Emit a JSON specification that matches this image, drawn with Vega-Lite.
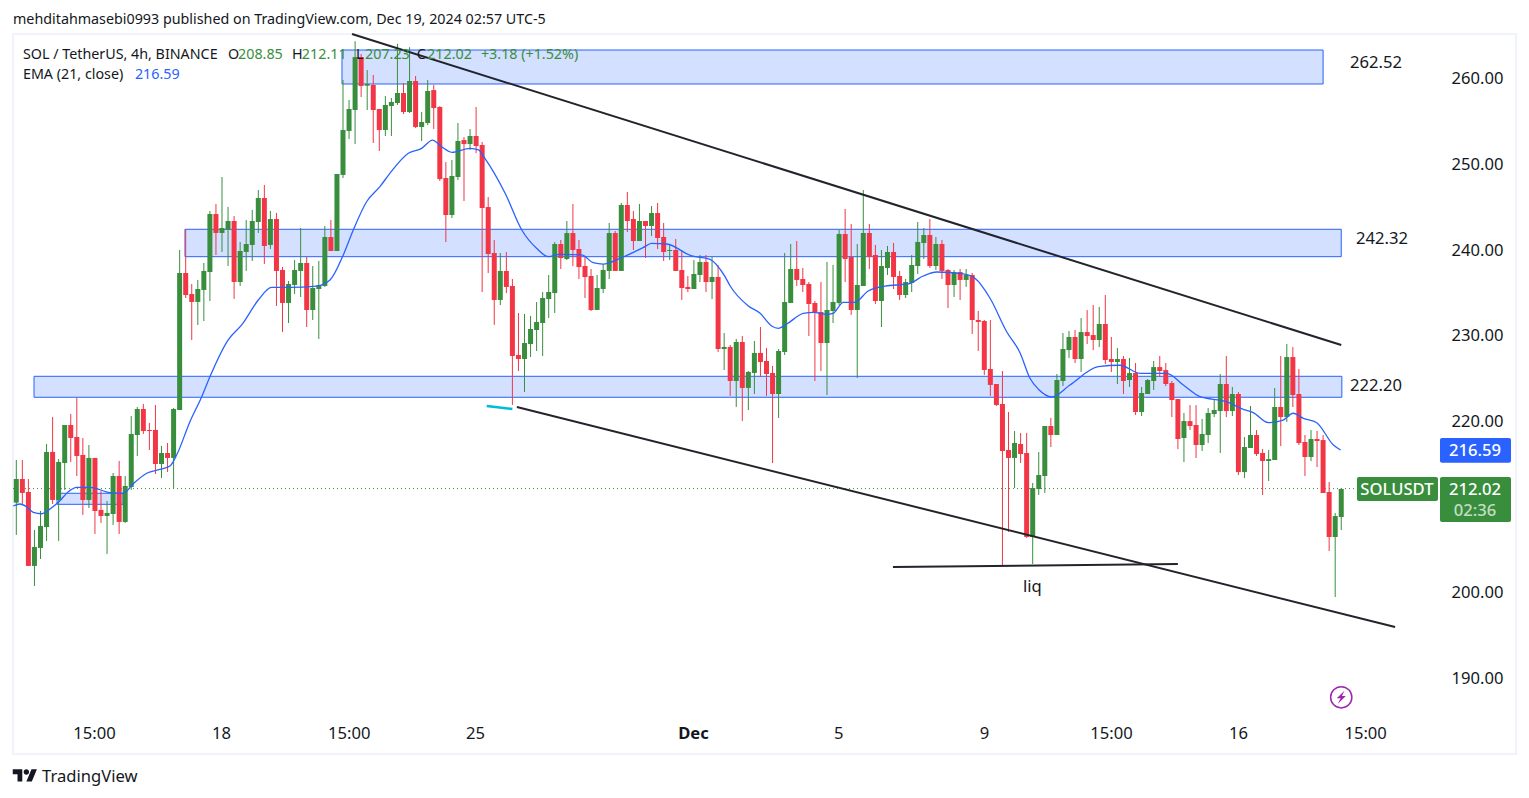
{"$schema":"https://vega.github.io/schema/vega-lite/v6.json","width":1529,"height":798,"autosize":{"type":"none"},"padding":0,"background":"white","config":{"view":{"stroke":null},"font":"Noto Sans"},
"datasets":{
"candles":[
{"i":0,"o":210.38,"h":215.36,"l":206.6,"c":213.14},{"i":1,"o":213.14,"h":215.36,"l":210.1,"c":211.51},{"i":2,"o":211.62,"h":213.14,"l":202.98,"c":202.98},{"i":3,"o":202.98,"h":207.18,"l":200.64,"c":205.2},{"i":4,"o":205.08,"h":209.4,"l":203.79,"c":207.65},{"i":5,"o":207.53,"h":217.23,"l":205.9,"c":216.3},{"i":6,"o":216.3,"h":220.39,"l":210.22,"c":210.69},{"i":7,"o":210.69,"h":215.48,"l":205.9,"c":215.13},{"i":8,"o":215.01,"h":219.45,"l":211.86,"c":219.45},{"i":9,"o":219.45,"h":220.74,"l":215.13,"c":217.93},
{"i":10,"o":218.05,"h":222.61,"l":213.49,"c":215.83},{"i":11,"o":215.95,"h":217.93,"l":208.94,"c":210.69},{"i":12,"o":210.69,"h":217.11,"l":209.75,"c":215.6},{"i":13,"o":215.6,"h":215.6,"l":206.72,"c":209.4},{"i":14,"o":209.52,"h":211.74,"l":208,"c":208.82},{"i":15,"o":208.82,"h":210.57,"l":204.38,"c":209.17},{"i":16,"o":209.05,"h":213.84,"l":207.77,"c":213.49},{"i":17,"o":213.49,"h":215.25,"l":206.72,"c":208.12},{"i":18,"o":208.12,"h":213.49,"l":208,"c":212.32},{"i":19,"o":212.21,"h":220.5,"l":211.86,"c":218.4},
{"i":20,"o":218.28,"h":221.55,"l":215.83,"c":221.32},{"i":21,"o":221.32,"h":221.91,"l":218.4,"c":218.75},{"i":22,"o":218.87,"h":219.69,"l":216.53,"c":218.75},{"i":23,"o":218.87,"h":221.79,"l":213.73,"c":214.89},{"i":24,"o":214.89,"h":217,"l":213.26,"c":216.18},{"i":25,"o":216.18,"h":217.35,"l":213.96,"c":215.6},{"i":26,"o":215.6,"h":221.44,"l":212.09,"c":221.32},{"i":27,"o":221.21,"h":239.9,"l":221.21,"c":237.21},{"i":28,"o":237.21,"h":242.32,"l":234.29,"c":234.64},{"i":29,"o":234.76,"h":235.93,"l":229.39,"c":233.83},
{"i":30,"o":233.83,"h":236.4,"l":231.14,"c":235.34},{"i":31,"o":235.23,"h":238.38,"l":231.6,"c":237.45},{"i":32,"o":237.33,"h":244.46,"l":233.94,"c":244.11},{"i":33,"o":244.11,"h":245.28,"l":239.32,"c":241.89},{"i":34,"o":241.89,"h":248.43,"l":239.67,"c":242.47},{"i":35,"o":242.28,"h":244.93,"l":238.03,"c":243.29},{"i":36,"o":243.29,"h":243.87,"l":234.18,"c":236.16},{"i":37,"o":236.16,"h":240.84,"l":235.7,"c":239.78},{"i":38,"o":239.67,"h":243.41,"l":237.45,"c":240.6},{"i":39,"o":240.49,"h":244.58,"l":238.62,"c":243.29},
{"i":40,"o":243.17,"h":246.91,"l":241.89,"c":245.98},{"i":41,"o":245.98,"h":247.5,"l":238.27,"c":240.37},{"i":42,"o":240.49,"h":244.46,"l":240.02,"c":243.52},{"i":43,"o":243.52,"h":244.23,"l":233.36,"c":237.45},{"i":44,"o":237.57,"h":237.92,"l":230.32,"c":233.71},{"i":45,"o":233.71,"h":236.28,"l":231.37,"c":235.93},{"i":46,"o":235.81,"h":238.73,"l":234.76,"c":237.57},{"i":47,"o":237.45,"h":242.47,"l":234.41,"c":238.38},{"i":48,"o":238.38,"h":239.08,"l":230.9,"c":232.89},{"i":49,"o":232.89,"h":238.03,"l":231.72,"c":235.46},
{"i":50,"o":235.34,"h":238.62,"l":229.5,"c":235.81},{"i":51,"o":235.7,"h":242.71,"l":235.58,"c":241.42},{"i":52,"o":241.42,"h":243.41,"l":239.78,"c":239.78},{"i":53,"o":239.78,"h":248.78,"l":239.78,"c":248.78},{"i":54,"o":248.67,"h":259.77,"l":248.31,"c":253.92},{"i":55,"o":253.81,"h":257.43,"l":252.87,"c":256.38},{"i":56,"o":256.26,"h":264.3,"l":252.29,"c":262.45},{"i":57,"o":262.45,"h":262.8,"l":257.78,"c":259.07},{"i":58,"o":259.1,"h":260.93,"l":256.26,"c":259.3},{"i":59,"o":259.18,"h":260.35,"l":252.4,"c":256.26},
{"i":60,"o":256.38,"h":256.38,"l":251.47,"c":253.92},{"i":61,"o":253.92,"h":257.9,"l":253.22,"c":256.85},{"i":62,"o":256.73,"h":257.66,"l":253.22,"c":257.2},{"i":63,"o":257.08,"h":264,"l":256.85,"c":258.25},{"i":64,"o":258.24,"h":259.41,"l":255.79,"c":256.02},{"i":65,"o":256.02,"h":263.6,"l":255.91,"c":259.65},{"i":66,"o":259.65,"h":260.23,"l":254.15,"c":254.27},{"i":67,"o":254.27,"h":256.02,"l":252.64,"c":254.86},{"i":68,"o":254.74,"h":259.76,"l":254.5,"c":258.48},{"i":69,"o":258.59,"h":259.18,"l":254.04,"c":256.49},
{"i":70,"o":256.61,"h":256.72,"l":247.96,"c":248.19},{"i":71,"o":248.31,"h":250.18,"l":240.83,"c":243.99},{"i":72,"o":243.99,"h":250.42,"l":243.64,"c":248.55},{"i":73,"o":248.43,"h":254.74,"l":248.08,"c":252.64},{"i":74,"o":252.75,"h":253.1,"l":245.62,"c":252.28},{"i":75,"o":252.28,"h":254.04,"l":251.58,"c":253.22},{"i":76,"o":253.22,"h":256.61,"l":251.23,"c":252.05},{"i":77,"o":252.17,"h":252.52,"l":234.99,"c":244.81},{"i":78,"o":244.92,"h":246.09,"l":237.21,"c":239.43},{"i":79,"o":239.55,"h":241.07,"l":231.14,"c":234.06},
{"i":80,"o":234.06,"h":239.55,"l":233.47,"c":237.45},{"i":81,"o":237.45,"h":239.66,"l":234.87,"c":235.58},{"i":82,"o":235.69,"h":236.51,"l":221.79,"c":227.51},{"i":83,"o":227.63,"h":232.54,"l":225.76,"c":227.16},{"i":84,"o":227.16,"h":232.42,"l":223.31,"c":229.03},{"i":85,"o":228.91,"h":232.19,"l":227.4,"c":230.67},{"i":86,"o":230.55,"h":233.82,"l":228.1,"c":231.49},{"i":87,"o":231.37,"h":234.99,"l":227.51,"c":234.29},{"i":88,"o":234.17,"h":236.98,"l":231.95,"c":234.99},{"i":89,"o":234.87,"h":240.83,"l":232.54,"c":240.6},
{"i":90,"o":240.6,"h":241.07,"l":237.68,"c":238.96},{"i":91,"o":238.85,"h":243.29,"l":238.73,"c":241.88},{"i":92,"o":241.88,"h":245.27,"l":238.03,"c":239.9},{"i":93,"o":240.02,"h":241.07,"l":236.51,"c":237.91},{"i":94,"o":238.03,"h":239.08,"l":234.29,"c":236.74},{"i":95,"o":236.86,"h":237.68,"l":232.77,"c":232.89},{"i":96,"o":232.89,"h":236.98,"l":232.89,"c":235.46},{"i":97,"o":235.34,"h":238.26,"l":234.87,"c":237.56},{"i":98,"o":237.45,"h":243.05,"l":236.51,"c":241.88},{"i":99,"o":241.88,"h":242.12,"l":237.45,"c":237.45},
{"i":100,"o":237.45,"h":245.39,"l":237.45,"c":245.16},{"i":101,"o":245.16,"h":246.68,"l":242,"c":243.29},{"i":102,"o":243.52,"h":244.46,"l":239.9,"c":240.95},{"i":103,"o":240.95,"h":245.28,"l":240.95,"c":243.29},{"i":104,"o":243.29,"h":243.29,"l":238.97,"c":242.71},{"i":105,"o":242.71,"h":245.04,"l":241.54,"c":244.22},{"i":106,"o":244.22,"h":245.39,"l":240.02,"c":241.3},{"i":107,"o":241.42,"h":243.06,"l":238.62,"c":239.67},{"i":108,"o":239.78,"h":240.49,"l":238.73,"c":239.9},{"i":109,"o":239.9,"h":241.19,"l":237.45,"c":237.45},
{"i":110,"o":237.56,"h":239.9,"l":234.06,"c":235.46},{"i":111,"o":235.58,"h":236.86,"l":234.99,"c":235.34},{"i":112,"o":235.34,"h":238.73,"l":235.34,"c":237.1},{"i":113,"o":236.98,"h":239.32,"l":236.16,"c":238.5},{"i":114,"o":238.5,"h":239.32,"l":234.99,"c":236.16},{"i":115,"o":236.16,"h":239.08,"l":234.17,"c":236.75},{"i":116,"o":236.75,"h":238.15,"l":227.98,"c":228.33},{"i":117,"o":228.33,"h":230.2,"l":225.88,"c":228.57},{"i":118,"o":228.57,"h":228.8,"l":222.84,"c":224.59},{"i":119,"o":224.59,"h":229.5,"l":221.56,"c":229.15},
{"i":120,"o":229.15,"h":229.85,"l":219.92,"c":223.78},{"i":121,"o":223.78,"h":225.76,"l":221.2,"c":225.65},{"i":122,"o":225.53,"h":229.27,"l":223.07,"c":227.87},{"i":123,"o":227.87,"h":230.9,"l":225.06,"c":226.81},{"i":124,"o":226.93,"h":228.45,"l":222.84,"c":225.41},{"i":125,"o":225.53,"h":226.35,"l":215.01,"c":223.07},{"i":126,"o":223.07,"h":228.33,"l":220.27,"c":228.1},{"i":127,"o":227.98,"h":239.55,"l":227.63,"c":233.82},{"i":128,"o":233.71,"h":240.6,"l":233.71,"c":237.68},{"i":129,"o":237.68,"h":240.95,"l":235.69,"c":236.4},
{"i":130,"o":236.51,"h":237.8,"l":234.99,"c":235.81},{"i":131,"o":235.93,"h":236.16,"l":229.85,"c":233.59},{"i":132,"o":233.71,"h":233.94,"l":224.59,"c":232.54},{"i":133,"o":232.66,"h":236.16,"l":225.76,"c":229.03},{"i":134,"o":229.03,"h":238.5,"l":222.96,"c":232.89},{"i":135,"o":232.77,"h":238.15,"l":231.37,"c":233.82},{"i":136,"o":233.71,"h":242.24,"l":233.47,"c":241.77},{"i":137,"o":241.77,"h":244.69,"l":236.16,"c":238.85},{"i":138,"o":239.08,"h":242.94,"l":232.31,"c":232.89},{"i":139,"o":232.89,"h":240.6,"l":224.94,"c":235.81},
{"i":140,"o":235.69,"h":246.91,"l":235.69,"c":241.89},{"i":141,"o":241.89,"h":242.94,"l":237.68,"c":239.08},{"i":142,"o":239.32,"h":240.49,"l":233.59,"c":233.94},{"i":143,"o":233.94,"h":239.9,"l":230.9,"c":238.03},{"i":144,"o":237.8,"h":240.37,"l":236.98,"c":239.67},{"i":145,"o":239.67,"h":240.72,"l":235.34,"c":236.75},{"i":146,"o":236.86,"h":237.45,"l":234.06,"c":234.64},{"i":147,"o":234.64,"h":236.51,"l":234.29,"c":236.16},{"i":148,"o":236.05,"h":239.32,"l":234.99,"c":238.15},{"i":149,"o":238.03,"h":243.17,"l":237.1,"c":240.84},
{"i":150,"o":240.72,"h":242.47,"l":238.85,"c":241.65},{"i":151,"o":241.65,"h":243.52,"l":237.8,"c":238.03},{"i":152,"o":238.03,"h":241.42,"l":237.56,"c":240.6},{"i":153,"o":240.6,"h":241.07,"l":236.51,"c":237.45},{"i":154,"o":237.56,"h":237.68,"l":233.12,"c":235.81},{"i":155,"o":235.81,"h":237.56,"l":234.41,"c":237.33},{"i":156,"o":237.33,"h":237.68,"l":234.06,"c":236.4},{"i":157,"o":236.4,"h":237.68,"l":235.58,"c":236.98},{"i":158,"o":236.98,"h":237.21,"l":230.09,"c":231.72},{"i":159,"o":231.72,"h":232.77,"l":228.1,"c":231.49},
{"i":160,"o":231.6,"h":231.72,"l":225.3,"c":225.88},{"i":161,"o":226,"h":231.72,"l":222.84,"c":224.13},{"i":162,"o":224.24,"h":224.24,"l":221.67,"c":221.79},{"i":163,"o":221.91,"h":225.76,"l":202.98,"c":216.41},{"i":164,"o":216.53,"h":220.97,"l":206.95,"c":215.6},{"i":165,"o":215.6,"h":218.75,"l":212.09,"c":217.35},{"i":166,"o":217.23,"h":218.52,"l":215.01,"c":216.06},{"i":167,"o":216.18,"h":218.52,"l":206.25,"c":206.37},{"i":168,"o":206.37,"h":212.67,"l":203.21,"c":212.09},{"i":169,"o":211.97,"h":216.3,"l":211.27,"c":213.61},
{"i":170,"o":213.49,"h":219.33,"l":211.51,"c":219.33},{"i":171,"o":219.33,"h":220.27,"l":216.88,"c":218.28},{"i":172,"o":218.28,"h":225.41,"l":218.28,"c":224.71},{"i":173,"o":224.59,"h":230.2,"l":224,"c":228.33},{"i":174,"o":228.21,"h":230.43,"l":227.28,"c":229.73},{"i":175,"o":229.73,"h":230.55,"l":226.69,"c":227.16},{"i":176,"o":227.16,"h":231.95,"l":225.64,"c":230.31},{"i":177,"o":230.31,"h":232.88,"l":228.91,"c":229.85},{"i":178,"o":229.96,"h":233.47,"l":228.21,"c":229.38},{"i":179,"o":229.38,"h":233.24,"l":228.56,"c":231.25},
{"i":180,"o":231.25,"h":234.64,"l":226.57,"c":227.04},{"i":181,"o":227.16,"h":229.73,"l":225.64,"c":226.81},{"i":182,"o":226.81,"h":228.44,"l":224.24,"c":227.16},{"i":183,"o":227.16,"h":227.51,"l":223.07,"c":224.59},{"i":184,"o":224.71,"h":227.28,"l":223.89,"c":225.52},{"i":185,"o":225.52,"h":226.69,"l":220.62,"c":220.97},{"i":186,"o":220.97,"h":223.89,"l":220.5,"c":223.19},{"i":187,"o":223.07,"h":224.82,"l":223.07,"c":224.71},{"i":188,"o":224.59,"h":226.92,"l":223.54,"c":226.22},{"i":189,"o":226.22,"h":227.51,"l":225.06,"c":225.76},
{"i":190,"o":225.87,"h":226.69,"l":224,"c":224.24},{"i":191,"o":224.35,"h":224.59,"l":220.38,"c":222.37},{"i":192,"o":222.48,"h":222.48,"l":216.64,"c":217.81},{"i":193,"o":217.93,"h":220.85,"l":215.12,"c":219.91},{"i":194,"o":219.91,"h":221.78,"l":218.86,"c":219.33},{"i":195,"o":219.45,"h":221.78,"l":215.59,"c":217.11},{"i":196,"o":217.11,"h":220.15,"l":216.41,"c":218.4},{"i":197,"o":218.28,"h":221.43,"l":217.34,"c":220.85},{"i":198,"o":220.73,"h":222.48,"l":220.38,"c":221.2},{"i":199,"o":221.08,"h":225.41,"l":216.18,"c":224.24},
{"i":200,"o":224.24,"h":227.51,"l":220.38,"c":221.08},{"i":201,"o":221.08,"h":223.89,"l":220.5,"c":223.07},{"i":202,"o":223.07,"h":223.3,"l":213.6,"c":213.95},{"i":203,"o":213.95,"h":218.04,"l":213.25,"c":216.88},{"i":204,"o":216.76,"h":221.67,"l":216.76,"c":218.28},{"i":205,"o":218.28,"h":218.86,"l":215.83,"c":216.06},{"i":206,"o":216.18,"h":216.64,"l":211.27,"c":215.24},{"i":207,"o":215.24,"h":216.53,"l":212.9,"c":215.47},{"i":208,"o":215.36,"h":223.77,"l":215.36,"c":221.55},{"i":209,"o":221.55,"h":227.51,"l":216.99,"c":220.38},
{"i":210,"o":220.38,"h":228.91,"l":219.8,"c":227.39},{"i":211,"o":227.39,"h":228.56,"l":221.55,"c":222.95},{"i":212,"o":223.07,"h":225.99,"l":217.11,"c":217.34},{"i":213,"o":217.46,"h":218.28,"l":213.49,"c":215.71},{"i":214,"o":215.71,"h":218.86,"l":215.24,"c":217.81},{"i":215,"o":217.81,"h":218.75,"l":214.54,"c":217.58},{"i":216,"o":217.69,"h":218.28,"l":211.5,"c":211.5},{"i":217,"o":211.62,"h":212.79,"l":204.72,"c":206.36},{"i":218,"o":206.36,"h":209.16,"l":199.35,"c":208.81},{"i":219,"o":208.7,"h":212.08,"l":207.18,"c":211.97}],
"ema":[{"i":-0.5,"v":209.98},{"i":0.6,"v":210.22},{"i":1.7,"v":209.9},{"i":2.8,"v":209.25},{"i":4.2,"v":209.08},{"i":5.85,"v":209.79},{"i":7.2,"v":210.6},{"i":8.6,"v":211.66},{"i":10,"v":212.17},{"i":12.2,"v":212.17},{"i":15.5,"v":211.54},{"i":17.7,"v":211.47},{"i":19.3,"v":212.56},{"i":21.55,"v":213.81},{"i":23.75,"v":214.27},{"i":25.4,"v":214.66},{"i":26.5,"v":215.94},{"i":28.7,"v":219.84},{"i":30.65,"v":222.76},{"i":32,"v":225.09},{"i":35,"v":229.38},{"i":37.25,"v":231.14},{"i":40,"v":234.06},{"i":42.2,"v":235.54},{"i":45.25,"v":235.54},{"i":49.65,"v":235.69},{"i":51.85,"v":236.39},{"i":54.05,"v":239.32},{"i":55.7,"v":242.24},{"i":57.9,"v":245.54},{"i":60.1,"v":247.3},{"i":61.75,"v":248.86},{"i":64.8,"v":251.2},{"i":67,"v":251.78},{"i":68.8,"v":252.75},{"i":70.3,"v":251.97},{"i":72,"v":251.32},{"i":75,"v":251.78},{"i":76.4,"v":251.59},{"i":77.45,"v":250.62},{"i":80.8,"v":246.53},{"i":83.55,"v":242.24},{"i":86,"v":240.1},{"i":87.95,"v":239.12},{"i":89.85,"v":239.4},{"i":93.45,"v":239.32},{"i":95.35,"v":238.42},{"i":97,"v":238.26},{"i":99.8,"v":238.93},{"i":103.6,"v":240.17},{"i":105,"v":240.68},{"i":107.5,"v":240.6},{"i":111.65,"v":239.2},{"i":114.65,"v":238.81},{"i":117.15,"v":236.78},{"i":118,"v":235.69},{"i":121,"v":233.36},{"i":122.95,"v":232.5},{"i":124.85,"v":231.02},{"i":125.95,"v":230.75},{"i":127.35,"v":231.25},{"i":130.1,"v":232.5},{"i":131.75,"v":232.62},{"i":133.95,"v":232.39},{"i":135,"v":232.5},{"i":136.7,"v":233.79},{"i":138.6,"v":233.79},{"i":140.8,"v":235.11},{"i":143.6,"v":235.69},{"i":147.45,"v":235.93},{"i":149.9,"v":236.86},{"i":152.15,"v":237.33},{"i":156.55,"v":237.1},{"i":158.45,"v":236.59},{"i":160.95,"v":234.26},{"i":163.7,"v":230.35},{"i":165.9,"v":227.9},{"i":167.55,"v":224.91},{"i":168.95,"v":223.62},{"i":171.15,"v":222.72},{"i":174.15,"v":224.12},{"i":178.85,"v":226.26},{"i":182.4,"v":226.43},{"i":185.75,"v":225.49},{"i":190.15,"v":225.49},{"i":192.9,"v":224.12},{"i":195.65,"v":222.76},{"i":200.05,"v":222.17},{"i":202.8,"v":221.28},{"i":204.45,"v":220.89},{"i":206.95,"v":219.72},{"i":209.4,"v":220.03},{"i":211.05,"v":220.82},{"i":212.75,"v":220.23},{"i":214.95,"v":219.72},{"i":217.7,"v":217.11},{"i":218.9,"v":216.53}],
"bands":[{"a":53.83,"b":216,"lo":259.3,"hi":263.27},{"a":27.88,"b":219,"lo":239.12,"hi":242.32},{"a":2.93,"b":219.1,"lo":222.69,"hi":225.14},{"a":6.73,"b":17.64,"lo":210.18,"hi":211.47}],
"frame":[{"a":-0.55,"b":247.9,"lo":181,"hi":265.14}],
"trend":[{"a":55.49,"b":219,"p0":265.14,"p1":228.8},{"a":82.74,"b":227.9,"p0":221.55,"p1":195.84},{"a":144.9,"b":192,"p0":202.86,"p1":203.21}],
"cyan":[{"a":77.75,"b":82,"p0":221.67,"p1":221.32}],
"last":[{"a":-0.55,"b":221.3,"p":212.02}],
"text":[{"i":-0.55,"p":266.89,"t":"mehditahmasebi0993 published on TradingView.com, Dec 19, 2024 02:57 UTC-5","k":"ink"},{"i":1.1,"p":262.8,"t":"SOL / TetherUS, 4h, BINANCE","k":"ink"},{"i":35,"p":262.8,"t":"O","k":"ink"},{"i":36.65,"p":262.8,"t":"208.85","k":"up"},{"i":45.55,"p":262.8,"t":"H","k":"ink"},{"i":47.2,"p":262.8,"t":"212.11","k":"up"},{"i":56.15,"p":262.8,"t":"L","k":"ink"},{"i":57.65,"p":262.8,"t":"207.23","k":"up"},{"i":66.2,"p":262.8,"t":"C","k":"ink"},{"i":67.9,"p":262.8,"t":"212.02","k":"up"},{"i":76.8,"p":262.8,"t":"+3.18 (+1.52%)","k":"up"},{"i":1.1,"p":260.47,"t":"EMA (21, close)","k":"ink"},{"i":19.6,"p":260.47,"t":"216.59","k":"ema"}],
"notes":[{"i":220.45,"p":261.87,"t":"262.52"},{"i":221.45,"p":241.3,"t":"242.32"},{"i":220.45,"p":224.12,"t":"222.20"},{"i":166.4,"p":200.64,"t":"liq"},{"i":4.25,"p":178.43,"t":"TradingView"}],
"tags":[{"a":235.32,"b":247.06,"lo":215.04,"hi":217.93,"k":"ema"},{"a":235.32,"b":247.06,"lo":208.11,"hi":213.37,"k":"up"},{"a":221.6,"b":234.99,"lo":210.57,"hi":213.37,"k":"up"}],
"tagText":[{"i":241.1,"p":216.47,"t":"216.59","k":"a"},{"i":241.1,"p":211.97,"t":"212.02","k":"a"},{"i":241.1,"p":209.52,"t":"02:36","k":"b"},{"i":228.2,"p":211.97,"t":"SOLUSDT","k":"a"}],
"logo":[{"i":1.44,"p":178.49}],
"bolt":[{"i":219,"p":187.63}]
},
"layer":[
{"data":{"name":"frame"},"mark":{"type":"rect","fillOpacity":0,"stroke":"#f0f3fa","strokeWidth":2},"encoding":{
"x":{"field":"a","type":"quantitative","scale":{"domain":[-2.694,250.033],"range":[0,1529],"nice":false,"zero":false,"padding":0},"title":null,"axis":{"orient":"bottom","offset":-65,"values":[12.85,33.85,54.95,75.8,111.85,135.85,159.95,180.95,201.95,222.95],"labelExpr":"datum.value==33.85?'18':datum.value==75.8?'25':datum.value==111.85?'Dec':datum.value==135.85?'5':datum.value==159.95?'9':datum.value==201.95?'16':'15:00'","domain":false,"ticks":false,"grid":false,"labelPadding":0,"labelBaseline":"middle","labelAlign":"center","labelFontSize":16.6,"labelColor":"#131722","labelOverlap":false,"labelFlush":false,"title":null,"labelFontWeight":{"condition":{"test":"datum.value==111.85","value":"bold"},"value":"normal"}}},
"x2":{"field":"b"},
"y":{"field":"lo","type":"quantitative","scale":{"domain":[175.86,269.115],"range":[798,0],"nice":false,"zero":false,"padding":0},"title":null,"axis":{"orient":"right","offset":-78,"values":[190,200,210,220,230,240,250,260],"labelExpr":"datum.value==210?'':format(datum.value,'.2f')","domain":false,"ticks":false,"grid":false,"labelPadding":0,"labelOffset":1,"labelAlign":"left","labelBaseline":"middle","labelFontSize":16.6,"labelColor":"#131722","labelOverlap":false,"labelFlush":false,"title":null}},
"y2":{"field":"hi"}}},
{"data":{"name":"bands"},"mark":{"type":"rect","fill":"#2962ff","fillOpacity":0.2,"stroke":"#2962ff","strokeWidth":1},"encoding":{"x":{"field":"a","type":"quantitative"},"x2":{"field":"b"},"y":{"field":"lo","type":"quantitative"},"y2":{"field":"hi"}}},
{"data":{"name":"last"},"mark":{"type":"rule","stroke":"#388e3c","strokeWidth":1,"strokeDash":[1,3]},"encoding":{"x":{"field":"a","type":"quantitative"},"x2":{"field":"b"},"y":{"field":"p","type":"quantitative"}}},
{"data":{"name":"candles"},"mark":{"type":"rule","strokeWidth":1},"encoding":{"x":{"field":"i","type":"quantitative"},"y":{"field":"h","type":"quantitative"},"y2":{"field":"l"},"color":{"condition":{"test":"datum.c>=datum.o","value":"#388e3c"},"value":"#f23645"}}},
{"data":{"name":"candles"},"mark":{"type":"bar","width":5,"orient":"vertical"},"encoding":{"x":{"field":"i","type":"quantitative"},"y":{"field":"o","type":"quantitative"},"y2":{"field":"c"},"color":{"condition":{"test":"datum.c>=datum.o","value":"#388e3c"},"value":"#f23645"}}},
{"data":{"name":"ema"},"mark":{"type":"line","stroke":"#2962ff","strokeWidth":1.3,"interpolate":"monotone"},"encoding":{"x":{"field":"i","type":"quantitative"},"y":{"field":"v","type":"quantitative"}}},
{"data":{"name":"trend"},"mark":{"type":"rule","stroke":"#23232b","strokeWidth":2},"encoding":{"x":{"field":"a","type":"quantitative"},"x2":{"field":"b"},"y":{"field":"p0","type":"quantitative"},"y2":{"field":"p1"}}},
{"data":{"name":"cyan"},"mark":{"type":"rule","stroke":"#00bcd4","strokeWidth":2.5},"encoding":{"x":{"field":"a","type":"quantitative"},"x2":{"field":"b"},"y":{"field":"p0","type":"quantitative"},"y2":{"field":"p1"}}},
{"data":{"name":"tags"},"mark":{"type":"rect","cornerRadius":2},"encoding":{"x":{"field":"a","type":"quantitative"},"x2":{"field":"b"},"y":{"field":"lo","type":"quantitative"},"y2":{"field":"hi"},"color":{"field":"k","type":"nominal","legend":null,"scale":{"domain":["ema","up"],"range":["#2962ff","#388e3c"]}}}},
{"data":{"name":"text"},"mark":{"type":"text","align":"left","baseline":"middle","fontSize":14.3,"dy":1},"encoding":{"x":{"field":"i","type":"quantitative"},"y":{"field":"p","type":"quantitative"},"text":{"field":"t"},"fill":{"field":"k","type":"nominal","legend":null,"scale":{"domain":["ink","up","ema"],"range":["#131722","#388e3c","#2962ff"]}}}},
{"data":{"name":"notes"},"mark":{"type":"text","align":"left","baseline":"middle","fontSize":16.6,"dy":1,"fill":"#131722"},"encoding":{"x":{"field":"i","type":"quantitative"},"y":{"field":"p","type":"quantitative"},"text":{"field":"t"}}},
{"data":{"name":"tagText"},"mark":{"type":"text","align":"center","baseline":"middle","fontSize":16.6,"fontWeight":500,"dy":1},"encoding":{"x":{"field":"i","type":"quantitative"},"y":{"field":"p","type":"quantitative"},"text":{"field":"t"},"opacity":{"field":"k","type":"nominal","legend":null,"scale":{"domain":["a","b"],"range":[1,0.7]}},"fill":{"value":"#ffffff"}}},
{"data":{"name":"logo"},"mark":{"type":"point","filled":true,"fill":"#131722","opacity":1,"size":600,"shape":"M-1 -.5L-.222 -.5L-.222 .5L-.611 .5L-.611 -.111L-1 -.111ZM.111 .5L.556 .5L.972 -.5L.528 -.5ZM-.111 -.278A.222 .222 0 1 1 .333 -.278A.222 .222 0 1 1 -.111 -.278Z"},"encoding":{"x":{"field":"i","type":"quantitative"},"y":{"field":"p","type":"quantitative"}}},
{"data":{"name":"bolt"},"mark":{"type":"point","shape":"circle","filled":false,"stroke":"#9c27b0","strokeWidth":1.5,"size":452,"opacity":1},"encoding":{"x":{"field":"i","type":"quantitative"},"y":{"field":"p","type":"quantitative"}}},
{"data":{"name":"bolt"},"mark":{"type":"point","filled":true,"fill":"#9c27b0","opacity":1,"size":169,"shape":"M.5 -1L-.7 .15L-.1 .15L-.5 1L.7 -.2L.1 -.2Z"},"encoding":{"x":{"field":"i","type":"quantitative"},"y":{"field":"p","type":"quantitative"}}}
]}
